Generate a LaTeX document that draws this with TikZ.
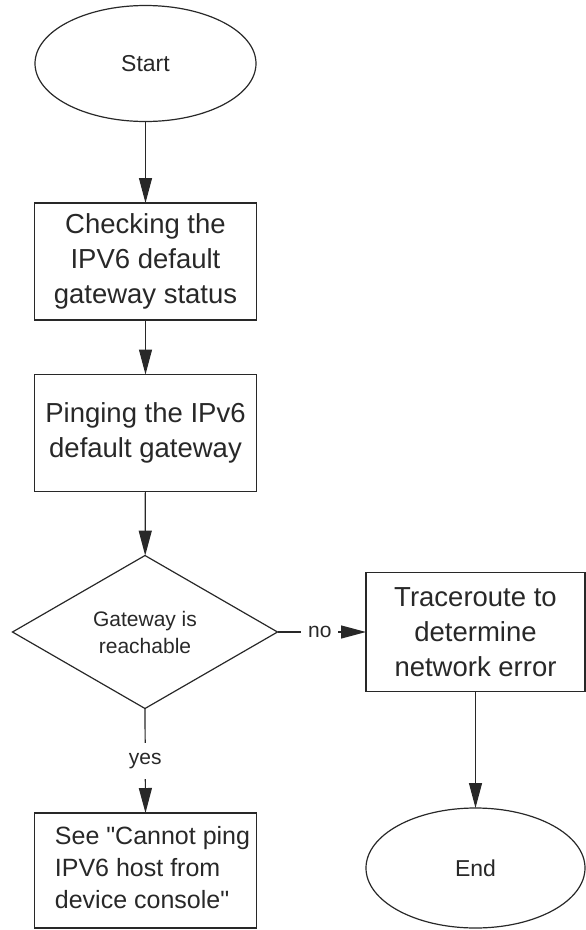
\documentclass[tikz,border=0pt]{standalone}
\usepackage{fontspec}
\setmainfont{Liberation Sans}
\usetikzlibrary{shapes.geometric,arrows.meta}
\definecolor{ink}{RGB}{40,40,40}
\begin{document}
\begin{tikzpicture}[x=1pt,y=-1pt,
  every node/.style={text=ink, inner sep=0pt, outer sep=0pt},
  lw/.style={draw=ink, line width=1.2pt},
  conn/.style={lw, -{Triangle[length=25pt,width=13pt]}},
  terminal/.style={lw, ellipse, minimum width=221pt, minimum height=116pt, font=\fontsize{23}{27}\selectfont},
  stepbox/.style={lw, rectangle, minimum width=222pt, minimum height=117pt, align=center, font=\fontsize{27.5}{35}\selectfont},
  decision/.style={lw, diamond, minimum width=265pt, minimum height=153pt, align=center, font=\fontsize{21}{27}\selectfont},
  lbl/.style={fill=white, font=\fontsize{21}{25}\selectfont}
]
\useasboundingbox (0,0) rectangle (586,930);
\node[terminal] (start) at (145.5,63.5) {Start};
\node[stepbox] (box1) at (145.5,261.5) {Checking the\\IPV6 default\\gateway status};
\node[stepbox] (box2) at (145.5,433) {Pinging the IPv6\\default gateway};
\node[decision] (dec) at (145,632) {Gateway is\\reachable};
\node[stepbox, minimum width=219pt, minimum height=119pt] (trace) at (475.5,632) {Traceroute to\\determine\\network error};
\node[terminal, minimum width=219pt, minimum height=120pt] (end) at (475.5,868) {End};
\node[stepbox, minimum height=115pt, font=\fontsize{25}{32}\selectfont] (see) at (145.5,870.5)
  {\hspace*{14pt}\begin{tabular}{@{}l@{}}See \textquotedbl Cannot ping\\IPV6 host from\\device console\textquotedbl\end{tabular}};
\draw[conn] (start) -- (box1);
\draw[conn] (box1) -- (box2);
\draw[conn] (box2) -- (dec);
\draw[conn] (dec) -- node[lbl, minimum width=37pt, xshift=-2pt] {no} (trace);
\draw[conn] (dec.south) -- node[lbl, minimum height=36pt] {yes} (see.north);
\draw[conn] (trace) -- (end);
\end{tikzpicture}
\end{document}
